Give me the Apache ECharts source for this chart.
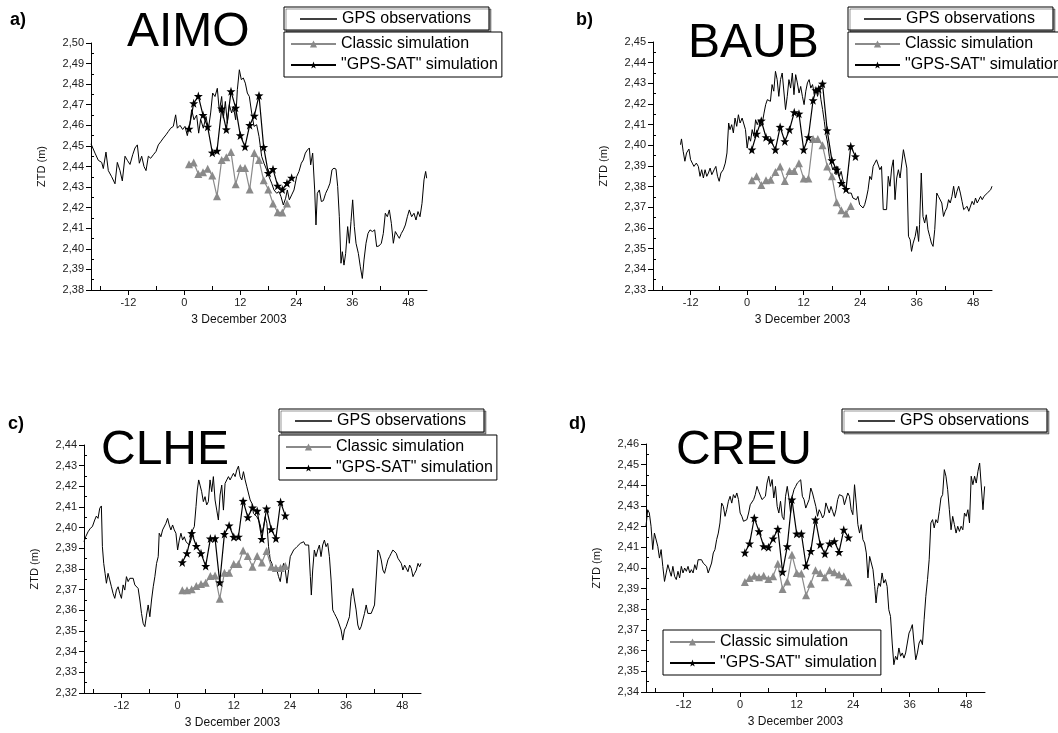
<!DOCTYPE html>
<html>
<head>
<meta charset="utf-8">
<script src="https://cdn.jsdelivr.net/npm/echarts@6/dist/echarts.min.js"></script>
<style>
html,body{margin:0;padding:0;background:#fff;}
#chart{width:1058px;height:733px;}
</style>
</head>
<body>
<div id="chart"></div>
<script>
// ---------- DATA ----------
var xMajorTicks = [-12, 0, 12, 24, 36, 48];
var xMinorTicks = [-18, -6, 6, 18, 30, 42];
var xRange = [-20, 52];
var xAxisTitle = '3 December 2003';
var yAxisTitle = 'ZTD (m)';
var seriesNames = ['GPS observations', 'Classic simulation', '"GPS-SAT" simulation'];
var panelLetters = ['a)', 'b)', 'c)', 'd)'];
var stationNames = ['AIMO', 'BAUB', 'CLHE', 'CREU'];
var yRangeA = [2.38, 2.50];
var yRangeB = [2.33, 2.45];
var yRangeC = [2.32, 2.44];
var yRangeD = [2.34, 2.46];

// AIMO
var gpsTimeA = [-20,-19.14,-18.43,-17.71,-17.36,-16.79,-16.29,-15.57,-14.86,-14.36,-13.79,-13.29,-12.71,-12.21,-11.64,-11.07,-10.57,-10.07,-9.64,-9.14,-8.64,-8.21,-7.71,-7.21,-6.64,-6.07,-5.57,-5.07,-4.5,-3.93,-3.43,-2.93,-2.36,-1.86,-1.5,-0.93,-0.36,0.14,0.64,1.21,1.57,2.07,2.64,3.07,3.5,4.07,4.64,5.14,5.64,6.07,6.57,7.07,7.5,8.0,8.36,8.79,9.21,9.64,10.14,10.5,11.0,11.36,11.79,12.21,12.64,13.07,13.5,13.93,14.43,14.93,15.5,16.0,16.57,17.07,17.64,18.14,18.71,19.21,19.79,20.29,20.71,21.21,21.71,22.07,22.5,23.0,23.5,24.07,24.57,25.07,25.5,25.93,26.36,26.79,27.07,27.5,27.93,28.21,28.5,28.93,29.36,29.79,30.29,30.79,31.21,31.64,32.07,32.5,32.86,33.21,33.57,33.86,34.21,34.57,35.0,35.36,35.71,36.07,36.43,36.79,37.29,37.71,38.14,38.5,38.93,39.36,39.79,40.29,40.79,41.21,41.71,42.21,42.64,43.07,43.5,43.93,44.36,44.79,45.21,45.64,46.07,46.5,46.93,47.36,47.79,48.21,48.71,49.21,49.64,50.07,50.5,50.93,51.36,51.71,51.93];
var gpsValA = [2.451,2.4465,2.443,2.442,2.439,2.447,2.438,2.435,2.4316,2.442,2.438,2.433,2.445,2.443,2.441,2.4457,2.449,2.4505,2.4416,2.445,2.440,2.438,2.445,2.444,2.4457,2.4473,2.4505,2.452,2.4538,2.4554,2.457,2.4586,2.4595,2.4651,2.4586,2.460,2.458,2.4595,2.455,2.461,2.4676,2.4627,2.465,2.4562,2.463,2.4586,2.4643,2.458,2.466,2.4757,2.474,2.478,2.4668,2.474,2.4635,2.4716,2.461,2.470,2.466,2.4692,2.4627,2.4773,2.487,2.4822,2.483,2.4805,2.4757,2.474,2.466,2.4595,2.4603,2.4546,2.4449,2.4416,2.4384,2.4351,2.4319,2.4286,2.427,2.4278,2.4254,2.4213,2.4246,2.4286,2.4238,2.4262,2.4286,2.4351,2.4376,2.4416,2.4432,2.4465,2.448,2.449,2.4408,2.4465,2.4286,2.4116,2.427,2.4286,2.423,2.4234,2.427,2.4294,2.4319,2.4384,2.4392,2.4387,2.4303,2.4156,2.393,2.3986,2.3921,2.3978,2.4108,2.4027,2.4132,2.4238,2.4108,2.4027,2.3978,2.3913,2.3856,2.3946,2.4027,2.4075,2.4092,2.4084,2.4092,2.4011,2.4014,2.4027,2.4075,2.4173,2.4156,2.4189,2.4124,2.4027,2.4084,2.4067,2.4051,2.4075,2.4092,2.4116,2.4156,2.4189,2.4156,2.4173,2.414,2.4181,2.4156,2.4221,2.4335,2.4376,2.4343];
var classicTimeA = [1,2,3,4,5,6,7,8,9,10,11,12,13,14,15,16,17,18,19,20,21,22];
var classicValA = [2.4411,2.4419,2.4364,2.4372,2.4389,2.4356,2.4255,2.4432,2.4445,2.4470,2.4314,2.4393,2.4393,2.4288,2.4466,2.4432,2.4333,2.4288,2.4220,2.4178,2.4176,2.4220];
var satTimeA = [1,2,3,4,5,6,7,8,9,10,11,12,13,14,15,16,17,18,19,20,21,22,23];
var satValA = [2.4583,2.4707,2.4742,2.4650,2.4593,2.4467,2.4476,2.4681,2.4580,2.4765,2.4685,2.4551,2.4496,2.4601,2.4646,2.4745,2.4494,2.4368,2.4387,2.4306,2.4288,2.4319,2.4345];

// BAUB
var gpsTimeB = [-14.16,-13.95,-13.59,-13.23,-12.88,-12.37,-12.02,-11.66,-11.30,-10.80,-10.37,-10.01,-9.66,-9.30,-8.94,-8.58,-8.23,-7.87,-7.51,-7.01,-6.65,-6.29,-5.94,-5.58,-5.08,-4.65,-4.29,-3.93,-3.65,-3.29,-2.93,-2.58,-2.22,-1.86,-1.50,-1.07,-0.72,-0.36,0,0.36,0.72,1.07,1.43,1.79,2.15,2.50,2.86,3.22,3.58,3.93,4.29,4.65,4.94,5.29,5.65,6.01,6.37,6.72,7.08,7.44,7.80,8.15,8.51,8.87,9.23,9.59,9.94,10.30,10.66,11.02,11.37,11.73,12.09,12.45,12.80,13.16,13.52,13.88,14.23,14.59,14.95,15.31,15.67,16.02,16.38,16.74,17.10,17.45,17.81,18.17,18.53,18.88,19.24,19.60,19.96,20.31,20.67,21.03,21.39,21.75,22.10,22.46,22.82,23.18,23.53,23.89,24.25,24.61,24.96,25.32,25.68,26.04,26.40,26.75,27.11,27.47,27.83,28.18,28.54,28.90,29.26,29.61,29.97,30.33,30.69,31.04,31.40,31.76,32.12,32.48,32.83,33.19,33.55,33.91,34.26,34.62,34.91,35.26,35.69,36.05,36.41,36.62,36.98,37.34,37.70,38.05,38.41,38.77,39.13,39.48,39.84,40.27,40.63,40.99,41.34,41.70,42.06,42.42,42.78,43.13,43.49,43.85,44.21,44.56,44.92,45.28,45.64,45.99,46.35,46.71,47.07,47.43,47.78,48.14,48.50,48.86,49.22,49.57,49.93,50.29,50.64,51.00,51.36,51.72,52.0];
var gpsValB = [2.4003,2.4031,2.3971,2.3923,2.3963,2.3982,2.3931,2.3914,2.3898,2.3914,2.3898,2.385,2.3882,2.3842,2.3882,2.385,2.3866,2.389,2.3858,2.3882,2.3898,2.385,2.3826,2.3866,2.3882,2.3914,2.3963,2.4108,2.4076,2.41,2.406,2.4132,2.4092,2.4148,2.4108,2.4132,2.4124,2.4076,2.3987,2.4044,2.402,2.4076,2.4044,2.4124,2.41,2.4124,2.4092,2.4108,2.4156,2.4197,2.4221,2.423,2.4213,2.4294,2.4262,2.4358,2.4318,2.4237,2.4318,2.435,2.4358,2.4173,2.4237,2.4318,2.4277,2.435,2.4245,2.4342,2.4302,2.4253,2.4285,2.4237,2.4197,2.4262,2.4302,2.4318,2.4277,2.4294,2.4253,2.4277,2.4237,2.4285,2.4221,2.4173,2.4116,2.4052,2.4011,2.3947,2.3914,2.3882,2.3898,2.3858,2.3898,2.385,2.3874,2.3834,2.3802,2.3785,2.3769,2.3761,2.3769,2.3745,2.3745,2.3737,2.3753,2.3713,2.3705,2.3697,2.3713,2.3745,2.3785,2.385,2.3834,2.3898,2.3914,2.393,2.3939,2.3882,2.3898,2.3689,2.3681,2.3689,2.385,2.3802,2.389,2.393,2.3737,2.3842,2.3882,2.3842,2.3834,2.3979,2.3982,2.389,2.356,2.3543,2.3487,2.3527,2.356,2.3608,2.3535,2.3616,2.3866,2.3656,2.3624,2.3664,2.3592,2.356,2.3527,2.3511,2.3592,2.3769,2.3753,2.3761,2.3721,2.3656,2.3681,2.3697,2.3737,2.3721,2.3753,2.3802,2.3745,2.3777,2.3802,2.3769,2.3729,2.3689,2.3681,2.3705,2.3681,2.3689,2.3729,2.3713,2.3745,2.3721,2.3737,2.3753,2.3737,2.3753,2.3761,2.3769,2.3777,2.3785,2.3802];
var classicTimeB = [1,2,3,4,5,6,7,8,9,10,11,12,13,14,15,16,17,18,19,20,21,22];
var classicValB = [2.3831,2.3850,2.3808,2.3831,2.3834,2.3871,2.3898,2.3827,2.3876,2.3876,2.3913,2.3839,2.3839,2.4031,2.4031,2.4000,2.3898,2.3850,2.3724,2.3686,2.3670,2.3706];
var satTimeB = [1,2,3,4,5,6,7,8,9,10,11,12,13,14,14.6,15.2,16,17,18,19,20,21,22,23];
var satValB = [2.3979,2.4056,2.4119,2.4039,2.4023,2.3979,2.4089,2.4019,2.4076,2.4160,2.4153,2.3979,2.4039,2.4218,2.4266,2.4273,2.4298,2.4072,2.3927,2.3882,2.3817,2.3788,2.3995,2.3946];

// CLHE
var gpsTimeC = [-20.0,-19.64,-19.14,-18.64,-18.21,-17.71,-17.36,-17.0,-16.64,-16.29,-16.07,-15.79,-15.5,-15.21,-14.86,-14.5,-14.14,-13.79,-13.43,-13.07,-12.71,-12.36,-12.0,-11.64,-11.29,-10.93,-10.57,-10.21,-9.86,-9.5,-9.14,-8.79,-8.43,-8.07,-7.71,-7.36,-7.0,-6.64,-6.29,-5.93,-5.57,-5.21,-4.86,-4.5,-4.14,-3.93,-3.57,-3.21,-2.86,-2.5,-2.14,-1.79,-1.43,-1.07,-0.71,-0.36,0,0.36,0.71,1.07,1.43,1.79,2.14,2.5,2.86,3.21,3.57,3.93,4.21,4.5,4.79,5.14,5.5,5.86,6.21,6.57,6.93,7.29,7.64,8.0,8.36,8.71,9.07,9.43,9.79,10.14,10.5,10.86,11.21,11.57,11.93,12.29,12.64,13.0,13.36,13.71,14.07,14.43,14.79,15.14,15.5,15.86,16.21,16.57,16.93,17.29,17.64,18.0,18.36,18.71,19.07,19.43,19.79,20.14,20.5,20.86,21.21,21.57,21.93,22.29,22.64,23.0,23.36,23.71,24.07,24.43,24.79,25.14,25.5,25.86,26.21,26.57,26.93,27.29,27.64,28.0,28.36,28.57,28.86,29.21,29.57,29.93,30.29,30.64,31.0,31.36,31.71,32.07,32.43,32.79,33.14,33.5,33.86,34.21,34.57,34.93,35.29,35.64,36.0,36.36,36.71,37.07,37.43,37.79,38.14,38.5,38.86,39.21,39.57,39.93,40.29,40.64,41.0,41.36,41.71,42.07,42.43,42.79,43.14,43.5,43.86,44.21,44.57,44.93,45.29,45.64,46.0,46.36,46.71,47.07,47.43,47.79,48.14,48.5,48.86,49.21,49.57,49.93,50.29,50.64,51.0,51.36,51.71,52.0];
var gpsValC = [2.3932,2.3956,2.398,2.3997,2.4005,2.4037,2.4056,2.4045,2.4094,2.4105,2.3908,2.3827,2.3779,2.3731,2.3779,2.3747,2.3714,2.3682,2.3658,2.3698,2.3714,2.3682,2.3658,2.3723,2.3698,2.3763,2.3739,2.3755,2.3747,2.3755,2.3723,2.3714,2.3706,2.365,2.3585,2.3537,2.3521,2.3577,2.3626,2.3569,2.365,2.3714,2.3763,2.3827,2.386,2.3973,2.3956,2.3989,2.3981,2.4021,2.4045,2.4013,2.3989,2.4013,2.3989,2.3973,2.3892,2.394,2.3973,2.394,2.3956,2.3932,2.394,2.3916,2.394,2.3989,2.4005,2.4102,2.4182,2.4231,2.4206,2.4174,2.4126,2.415,2.411,2.4126,2.4231,2.4174,2.4247,2.4134,2.4085,2.4037,2.4158,2.4206,2.4085,2.4214,2.4231,2.4247,2.4231,2.4247,2.4263,2.4247,2.4279,2.4298,2.4247,2.4231,2.4271,2.4231,2.4198,2.419,2.4134,2.4118,2.4069,2.4077,2.4053,2.4037,2.4013,2.3973,2.4005,2.4053,2.4021,2.3908,2.3844,2.3827,2.3795,2.3795,2.3795,2.3763,2.3739,2.3795,2.3827,2.3795,2.3731,2.3731,2.386,2.3868,2.3892,2.3884,2.3908,2.3916,2.3924,2.3924,2.3932,2.3916,2.3924,2.3916,2.3763,2.3674,2.3795,2.3892,2.386,2.3892,2.3916,2.386,2.3916,2.394,2.3908,2.3924,2.386,2.3747,2.3602,2.3585,2.3569,2.3553,2.3529,2.3505,2.3456,2.3505,2.3521,2.3513,2.3569,2.3666,2.3706,2.365,2.3602,2.3529,2.3505,2.3521,2.3553,2.3585,2.3626,2.3585,2.3577,2.3585,2.3593,2.3626,2.3634,2.3892,2.3876,2.3844,2.3795,2.3779,2.3811,2.3844,2.386,2.3876,2.3892,2.3884,2.3876,2.3852,2.3844,2.3827,2.3795,2.3819,2.3811,2.3787,2.3819,2.3803,2.3763,2.3779,2.3795,2.3827,2.3811,2.3827];
var classicTimeC = [1,2,3,4,5,6,7,8,9,10,11,12,13,14,15,16,17,18,19,20,21,22,23];
var classicValC = [2.3697,2.3697,2.3702,2.3718,2.3727,2.3734,2.3766,2.3768,2.3656,2.3782,2.3782,2.3824,2.3824,2.3889,2.3863,2.3811,2.3863,2.3831,2.3887,2.3811,2.3805,2.3805,2.3814];
var satTimeC = [1,2,3,4,5,6,7,8,9,10,11,12,13,14,15,16,17,18,19,20,21,22,23];
var satValC = [2.3832,2.3876,2.3973,2.3911,2.3876,2.3814,2.3947,2.3948,2.3735,2.3969,2.4010,2.3955,2.3956,2.4129,2.4050,2.4097,2.4081,2.3945,2.4092,2.3992,2.3948,2.4124,2.4058];

// CREU
var gpsTimeD = [-20.0,-19.64,-19.29,-18.93,-18.57,-18.21,-17.86,-17.5,-17.14,-16.79,-16.43,-16.07,-15.71,-15.36,-15.0,-14.64,-14.29,-13.93,-13.57,-13.21,-12.86,-12.5,-12.14,-11.79,-11.43,-11.07,-10.71,-10.36,-10.0,-9.64,-9.29,-8.93,-8.57,-8.21,-7.86,-7.5,-7.14,-6.79,-6.43,-6.07,-5.71,-5.36,-5.0,-4.64,-4.29,-3.93,-3.57,-3.21,-2.86,-2.5,-2.14,-1.79,-1.43,-1.07,-0.71,-0.36,0,0.36,0.71,1.07,1.43,1.79,2.14,2.5,2.86,3.21,3.57,3.93,4.29,4.64,5.0,5.36,5.71,6.07,6.43,6.79,7.14,7.5,7.86,8.21,8.57,8.93,9.29,9.64,10.0,10.36,10.71,11.07,11.43,11.79,12.14,12.5,12.86,13.21,13.57,13.93,14.29,14.64,15.0,15.36,15.71,16.07,16.43,16.79,17.14,17.5,17.86,18.21,18.57,18.93,19.29,19.64,20.0,20.36,20.71,21.07,21.43,21.79,22.14,22.5,22.86,23.21,23.57,23.93,24.29,24.64,25.0,25.36,25.71,26.07,26.43,26.79,27.14,27.5,27.86,28.21,28.57,28.86,29.14,29.43,29.79,30.14,30.5,30.86,31.21,31.57,31.93,32.29,32.64,33.0,33.36,33.71,34.07,34.43,34.79,35.14,35.5,35.86,36.21,36.57,36.93,37.29,37.64,38.0,38.36,38.71,39.07,39.43,39.79,40.14,40.5,40.86,41.21,41.57,41.93,42.29,42.64,43.0,43.36,43.71,44.07,44.43,44.79,45.14,45.5,45.86,46.21,46.57,46.93,47.29,47.64,48.0,48.36,48.71,49.07,49.43,49.79,50.14,50.5,50.86,51.21,51.57,51.93];
var gpsValD = [2.4202,2.4282,2.4266,2.4202,2.4089,2.4169,2.4177,2.4105,2.4048,2.4089,2.4008,2.3935,2.3976,2.4016,2.4008,2.396,2.4008,2.396,2.3944,2.3984,2.3952,2.4008,2.3976,2.4,2.3984,2.4008,2.3976,2.3992,2.3976,2.4016,2.3992,2.404,2.4032,2.404,2.4024,2.4032,2.4008,2.3976,2.3968,2.4024,2.4073,2.4089,2.4137,2.4169,2.4218,2.4314,2.4298,2.425,2.4282,2.4323,2.4347,2.4314,2.4355,2.4339,2.4363,2.4331,2.4266,2.425,2.4226,2.4218,2.4234,2.4266,2.4306,2.4314,2.4331,2.4355,2.4395,2.4371,2.4363,2.4331,2.4323,2.4347,2.4411,2.4444,2.4395,2.4428,2.4339,2.4395,2.4298,2.4266,2.4323,2.425,2.4234,2.4347,2.4395,2.4339,2.4266,2.4347,2.4379,2.4395,2.4411,2.4419,2.4427,2.4347,2.4331,2.429,2.4282,2.4331,2.4387,2.4363,2.4331,2.4298,2.425,2.4282,2.4266,2.4242,2.4258,2.4315,2.4306,2.4266,2.4298,2.4274,2.425,2.4282,2.4331,2.4355,2.4363,2.4347,2.4306,2.4315,2.4363,2.4347,2.4282,2.4258,2.4403,2.4315,2.421,2.4169,2.421,2.4137,2.4121,2.4073,2.3952,2.4056,2.4056,2.3992,2.3911,2.3831,2.3895,2.3927,2.3911,2.3976,2.3927,2.3944,2.3911,2.3798,2.3766,2.3637,2.3532,2.3573,2.3556,2.3613,2.3573,2.3589,2.3564,2.3589,2.3637,2.3685,2.3702,2.3726,2.3637,2.3556,2.3589,2.3637,2.3653,2.3629,2.375,2.3863,2.3944,2.404,2.4218,2.4234,2.4194,2.4234,2.4218,2.4274,2.4339,2.4355,2.4476,2.4444,2.4379,2.4282,2.4185,2.425,2.421,2.4169,2.4202,2.4177,2.4202,2.4185,2.4266,2.425,2.4282,2.4218,2.4444,2.4403,2.4444,2.4411,2.4468,2.4508,2.45,2.4282,2.4395];
var classicTimeD = [1,2,3,4,5,6,7,8,9,10,11,12,13,14,15,16,17,18,19,20,21,22,23];
var classicValD = [2.3932,2.3952,2.3963,2.3955,2.3963,2.3947,2.3960,2.4021,2.3898,2.3935,2.4064,2.3976,2.3973,2.3868,2.3924,2.3989,2.3976,2.3955,2.3989,2.3979,2.3968,2.3960,2.3931];
var satTimeD = [1,2,3,4,5,6,7,8,9,10,11,12,13,14,15,16,17,18,19,20,21,22,23];
var satValD = [2.4074,2.4118,2.4242,2.4177,2.4105,2.4100,2.4142,2.4189,2.3981,2.4105,2.4331,2.4166,2.4166,2.4011,2.4082,2.4234,2.4113,2.4069,2.4118,2.4129,2.4077,2.4185,2.4147];

// ---------- BUILD ----------
function zip(xs, ys) {
  var n = Math.min(xs.length, ys.length), out = [];
  for (var i = 0; i < n; i++) out.push([xs[i], ys[i]]);
  return out;
}
var FONT = 'Liberation Sans, Arial, Helvetica, sans-serif';
var STAR = 'path://M12,0L14.9,8.6L24,8.8L16.8,14.3L19.4,23L12,17.8L4.6,23L7.2,14.3L0,8.8L9.1,8.6Z';

var panels = [
  {yr: yRangeA, gt: gpsTimeA, gv: gpsValA, ct: classicTimeA, cv: classicValA, st: satTimeA, sv: satValA,
   grid: {left: 91, top: 43, width: 336, height: 247},
   leg1: {left: 284, top: 7}, leg2: {left: 284, top: 32},
   letter: {x: 10, y: 11}, title: {x: 127, y: 9}},
  {yr: yRangeB, gt: gpsTimeB, gv: gpsValB, ct: classicTimeB, cv: classicValB, st: satTimeB, sv: satValB,
   grid: {left: 653, top: 42, width: 339, height: 248},
   leg1: {left: 848, top: 7}, leg2: {left: 848, top: 32},
   letter: {x: 576, y: 11}, title: {x: 688, y: 20}},
  {yr: yRangeC, gt: gpsTimeC, gv: gpsValC, ct: classicTimeC, cv: classicValC, st: satTimeC, sv: satValC,
   grid: {left: 84, top: 445, width: 337, height: 248},
   leg1: {left: 279, top: 409}, leg2: {left: 279, top: 435},
   letter: {x: 8, y: 415}, title: {x: 101, y: 427}},
  {yr: yRangeD, gt: gpsTimeD, gv: gpsValD, ct: classicTimeD, cv: classicValD, st: satTimeD, sv: satValD,
   grid: {left: 646, top: 444, width: 339, height: 248},
   leg1: {left: 842, top: 409}, leg2: {left: 663, top: 630},
   letter: {x: 569, y: 415}, title: {x: 676, y: 427}}
];

var grids = [], xAxes = [], yAxes = [], series = [], legends = [], graphics = [];
var axisColor = '#000';

panels.forEach(function (p, i) {
  grids.push(p.grid);
  xAxes.push({
    type: 'value', gridIndex: i, min: xRange[0], max: xRange[1],
    axisLine: {show: true, onZero: false, lineStyle: {color: axisColor, width: 1}},
    axisTick: {show: true, inside: false, length: 5, customValues: xMajorTicks, lineStyle: {color: axisColor}},
    axisLabel: {show: true, customValues: xMajorTicks, margin: 7, fontSize: 11, fontFamily: FONT, color: '#222'},
    splitLine: {show: false},
    name: xAxisTitle, nameLocation: 'middle', nameGap: 24,
    nameTextStyle: {fontSize: 12, fontFamily: FONT, color: '#111', padding: [0, 40, 0, 0]}
  });
  yAxes.push({
    type: 'value', gridIndex: i, min: p.yr[0], max: p.yr[1], interval: 0.01,
    axisLine: {show: true, onZero: false, lineStyle: {color: axisColor, width: 1}},
    axisTick: {show: true, inside: false, length: 5, lineStyle: {color: axisColor}},
    axisLabel: {show: true, margin: 7, fontSize: 11, fontFamily: FONT, color: '#222',
      formatter: function (v) { return v.toFixed(2).replace('.', ','); }},
    splitLine: {show: false},
    name: yAxisTitle, nameLocation: 'middle', nameGap: 44,
    nameTextStyle: {fontSize: 11, fontFamily: FONT, color: '#111'}
  });
  series.push({
    name: seriesNames[0], type: 'line', xAxisIndex: i, yAxisIndex: i,
    data: zip(p.gt, p.gv), symbol: 'none', smooth: false,
    lineStyle: {color: '#000', width: 1}, itemStyle: {color: '#000'}, z: 2
  });
  series.push({
    name: seriesNames[1], type: 'line', xAxisIndex: i, yAxisIndex: i,
    data: zip(p.ct, p.cv), symbol: 'triangle', symbolSize: 8, showAllSymbol: true,
    lineStyle: {color: '#8a8a8a', width: 1.2}, itemStyle: {color: '#8a8a8a'}, z: 3
  });
  series.push({
    name: seriesNames[2], type: 'line', xAxisIndex: i, yAxisIndex: i,
    data: zip(p.st, p.sv), symbol: STAR, symbolSize: 9, showAllSymbol: true,
    lineStyle: {color: '#000', width: 1.2}, itemStyle: {color: '#000'}, z: 4
  });
  legends.push({
    data: [{name: seriesNames[0], icon: 'rect'}], orient: 'horizontal', left: p.leg1.left, top: p.leg1.top,
    itemWidth: 37, itemHeight: 1.4, padding: [4, 18, 3, 16], selectedMode: false,
    borderColor: '#000', borderWidth: 1, backgroundColor: '#fff',
    shadowColor: 'rgba(0,0,0,0.4)', shadowOffsetX: 2, shadowOffsetY: 2, shadowBlur: 0,
    itemStyle: {color: '#000'},
    textStyle: {fontSize: 16, fontFamily: FONT, color: '#000'}
  });
  legends.push({
    data: [seriesNames[1], seriesNames[2]], orient: 'vertical', left: p.leg2.left, top: p.leg2.top,
    itemWidth: 45, itemHeight: 9, itemGap: 5, padding: [4, 4, 4, 6], selectedMode: false,
    borderColor: '#000', borderWidth: 1, backgroundColor: '#fff',
    textStyle: {fontSize: 16, fontFamily: FONT, color: '#000', lineHeight: 16}
  });
  graphics.push({type: 'text', left: p.letter.x, top: p.letter.y,
    style: {text: panelLetters[i], font: 'bold 18px ' + FONT, fill: '#000'}});
  graphics.push({type: 'text', left: p.title.x, top: p.title.y,
    style: {text: stationNames[i], font: '48px ' + FONT, fill: '#000'}});
});

// minor tick axes (inside)
panels.forEach(function (p, i) {
  xAxes.push({
    type: 'value', gridIndex: i, min: xRange[0], max: xRange[1], position: 'bottom',
    axisLine: {show: false, onZero: false}, axisLabel: {show: false}, splitLine: {show: false},
    axisTick: {show: true, inside: true, length: 4, customValues: xMinorTicks, lineStyle: {color: axisColor}}
  });
  var minor = [];
  for (var k = 0; k < 12; k++) minor.push(+(p.yr[0] + 0.005 + k * 0.01).toFixed(3));
  yAxes.push({
    type: 'value', gridIndex: i, min: p.yr[0], max: p.yr[1], position: 'left',
    axisLine: {show: false, onZero: false}, axisLabel: {show: false}, splitLine: {show: false},
    axisTick: {show: true, inside: true, length: 3, customValues: minor, lineStyle: {color: axisColor}}
  });
});

var chart = echarts.init(document.getElementById('chart'), null, {renderer: 'canvas'});
chart.setOption({
  backgroundColor: '#fff',
  animation: false,
  grid: grids,
  xAxis: xAxes,
  yAxis: yAxes,
  legend: legends,
  series: series,
  graphic: graphics
});
</script>
</body>
</html>
